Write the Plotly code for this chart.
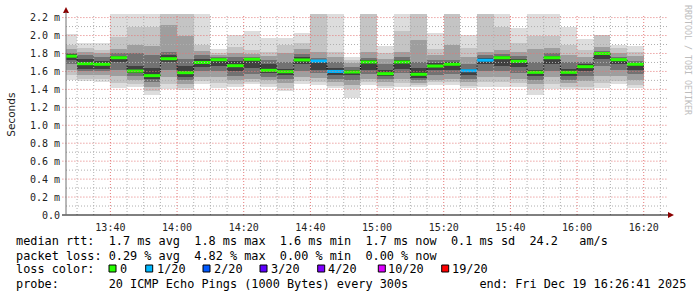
import plotly.graph_objects as go
import pandas as pd

# ---------------- data ----------------
# 5-minute steps, each value belongs to the interval ending at the step time
step_end = pd.date_range("2025-12-19 13:30", "2025-12-19 16:20", freq="5min")

rtt_max = [2.02, 1.92, 1.92, 2.24, 2.24, 2.24, 2.24, 2.24, 2.24, 1.85,
           2.01, 2.05, 1.97, 1.97, 2.03, 2.24, 2.24, 1.76, 2.24, 1.88,
           2.24, 2.24, 2.03, 2.24, 2.01, 2.24, 2.24, 2.085, 2.24, 2.24,
           2.10, 1.96, 2.01, 1.90, 1.88]
rtt_hi2 = [1.90, 1.86, 1.84, 1.98, 2.10, 2.10, 2.24, 2.24, 1.90, 1.80,
           1.87, 1.84, 1.82, 1.90, 1.92, 2.24, 1.82, 1.73, 2.24, 1.80,
           2.05, 2.24, 1.85, 2.24, 1.86, 2.24, 2.10, 1.92, 2.00, 2.00,
           1.90, 1.84, 2.01, 1.86, 1.82]
rtt_hi3 = [1.85, 1.82, 1.80, 1.85, 1.90, 1.88, 2.12, 2.00, 1.83, 1.78,
           1.80, 1.79, 1.77, 1.80, 1.85, 1.82, 1.76, 1.69, 1.82, 1.74,
           1.82, 1.95, 1.78, 1.90, 1.76, 1.82, 1.84, 1.82, 1.85, 1.86,
           1.78, 1.76, 1.87, 1.80, 1.77]
rtt_hi4 = [1.81, 1.78, 1.76, 1.80, 1.80, 1.78, 1.82, 1.74, 1.78, 1.76,
           1.76, 1.76, 1.73, 1.70, 1.79, 1.75, 1.70, 1.65, 1.75, 1.68,
           1.76, 1.70, 1.73, 1.73, 1.68, 1.78, 1.79, 1.77, 1.70, 1.80,
           1.70, 1.71, 1.83, 1.76, 1.72]
rtt_hi5 = [1.79, 1.74, 1.72, 1.77, 1.66, 1.64, 1.78, 1.66, 1.74, 1.75,
           1.72, 1.75, 1.68, 1.63, 1.76, 1.73, 1.64, 1.62, 1.73, 1.62,
           1.73, 1.64, 1.69, 1.70, 1.63, 1.75, 1.77, 1.74, 1.62, 1.77,
           1.63, 1.68, 1.81, 1.74, 1.69]
rtt_median = [1.77, 1.686, 1.68, 1.753, 1.604, 1.553, 1.742, 1.586, 1.70, 1.731,
              1.664, 1.735, 1.612, 1.597, 1.728, 1.716, 1.60, 1.594, 1.705, 1.575,
              1.705, 1.568, 1.66, 1.68, 1.608, 1.725, 1.753, 1.713, 1.59, 1.753,
              1.59, 1.653, 1.80, 1.731, 1.68]
rtt_lo5 = [1.73, 1.63, 1.63, 1.70, 1.58, 1.52, 1.70, 1.54, 1.65, 1.66,
           1.60, 1.64, 1.58, 1.56, 1.68, 1.62, 1.56, 1.56, 1.62, 1.55,
           1.63, 1.53, 1.62, 1.62, 1.56, 1.68, 1.66, 1.65, 1.55, 1.68,
           1.55, 1.60, 1.74, 1.68, 1.62]
rtt_lo4 = [1.68, 1.60, 1.60, 1.62, 1.55, 1.48, 1.62, 1.50, 1.60, 1.60,
           1.55, 1.57, 1.54, 1.52, 1.60, 1.58, 1.52, 1.50, 1.57, 1.52,
           1.58, 1.50, 1.56, 1.57, 1.52, 1.60, 1.60, 1.58, 1.51, 1.61,
           1.51, 1.55, 1.66, 1.62, 1.57]
rtt_lo3 = [1.62, 1.56, 1.56, 1.55, 1.50, 1.43, 1.54, 1.46, 1.54, 1.54,
           1.50, 1.52, 1.50, 1.47, 1.54, 1.53, 1.48, 1.45, 1.52, 1.48,
           1.52, 1.47, 1.51, 1.52, 1.48, 1.54, 1.54, 1.52, 1.46, 1.54,
           1.47, 1.49, 1.55, 1.55, 1.50]
rtt_lo2 = [1.56, 1.52, 1.52, 1.47, 1.46, 1.38, 1.46, 1.42, 1.49, 1.47,
           1.46, 1.48, 1.46, 1.42, 1.49, 1.48, 1.44, 1.40, 1.48, 1.44,
           1.47, 1.45, 1.48, 1.48, 1.44, 1.48, 1.48, 1.47, 1.40, 1.46,
           1.43, 1.43, 1.47, 1.49, 1.45]
rtt_min = [1.51, 1.49, 1.48, 1.42, 1.43, 1.34, 1.40, 1.39, 1.46, 1.42,
           1.43, 1.46, 1.43, 1.38, 1.46, 1.45, 1.41, 1.30, 1.45, 1.41,
           1.43, 1.43, 1.45, 1.45, 1.41, 1.43, 1.43, 1.43, 1.34, 1.40,
           1.40, 1.39, 1.42, 1.46, 1.42]
loss_count = [0, 0, 0, 0, 0, 0, 0, 0, 0, 0,
              0, 0, 0, 0, 0, 1, 1, 0, 0, 0,
              0, 0, 0, 0, 1, 1, 0, 0, 0, 0,
              0, 0, 0, 0, 0]

loss_levels = [0, 1, 2, 3, 4, 10, 19]
loss_labels = ["0", "1/20", "2/20", "3/20", "4/20", "10/20", "19/20"]
loss_colors = ["#26ff00", "#00b8ff", "#0059ff", "#5e00ff", "#7e00ff", "#dd00ff", "#ff0000"]

y_tick_vals = [0.0, 0.2, 0.4, 0.6, 0.8, 1.0, 1.2, 1.4, 1.6, 1.8, 2.0, 2.2]
y_tick_text = ["0.0", "0.2 m", "0.4 m", "0.6 m", "0.8 m", "1.0 m", "1.2 m",
               "1.4 m", "1.6 m", "1.8 m", "2.0 m", "2.2 m"]
y_minor_vals = [0.1, 0.3, 0.5, 0.7, 0.9, 1.1, 1.3, 1.5, 1.7, 1.9, 2.1]
x_tick_vals = pd.date_range("2025-12-19 13:40", "2025-12-19 16:20", freq="20min")
x_tick_text = ["13:40", "14:00", "14:20", "14:40", "15:00", "15:20", "15:40", "16:00", "16:20"]
x_minor_vals = [t for t in pd.date_range("2025-12-19 13:30", "2025-12-19 16:25", freq="5min")
                if t not in set(x_tick_vals)]
x_start = "2025-12-19 13:26:41"
x_end = "2025-12-19 16:26:41"

legend_rtt = "median rtt:  1.7 ms avg  1.8 ms max  1.6 ms min  1.7 ms now  0.1 ms sd  24.2   am/s"
legend_loss = "packet loss: 0.29 % avg  4.82 % max  0.00 % min  0.00 % now"
legend_probe = "probe:       20 ICMP Echo Pings (1000 Bytes) every 300s          end: Fri Dec 19 16:26:41 2025"

# ---------------- figure ----------------
W, H = 697, 297
L, R, T, B = 66, 31, 14, 82
PW, PH = W - L - R, H - T - B


def px(x):
    return (x - L) / PW


def py(y):
    return (T + PH - y) / PH


step = pd.Timedelta("5min")
centers = step_end - step / 2
starts = step_end - step

fig = go.Figure()

layers = [(rtt_min, rtt_max, "#dddddd"),
          (rtt_lo2, rtt_hi2, "#c4c4c4"),
          (rtt_lo3, rtt_hi3, "#9e9e9e"),
          (rtt_lo4, rtt_hi4, "#727272"),
          (rtt_lo5, rtt_hi5, "#404040")]
for lo, hi, col in layers:
    fig.add_trace(go.Bar(
        x=centers, y=[h - l for h, l in zip(hi, lo)], base=lo,
        width=step.total_seconds() * 1000,
        marker=dict(color=col, line=dict(width=0)),
        hoverinfo="skip", showlegend=False))

# black step connector of the median
fig.add_trace(go.Scatter(
    x=list(starts) + [step_end[-1]], y=rtt_median + [rtt_median[-1]],
    mode="lines", line=dict(color="#000000", width=1, shape="hv", dash="1px,1px"),
    hoverinfo="skip", showlegend=False))


def loss_index(n):
    idx = 0
    for i, lv in enumerate(loss_levels):
        if n >= lv:
            idx = i
    return idx


for ci, col in enumerate(loss_colors):
    xs, ys = [], []
    for s, e, m, n in zip(starts, step_end, rtt_median, loss_count):
        if loss_index(n) == ci:
            xs += [s, e, None]
            ys += [m, m, None]
    if xs:
        fig.add_trace(go.Scatter(x=xs, y=ys, mode="lines",
                                 line=dict(color=col, width=3),
                                 hoverinfo="skip", showlegend=False))

shapes = []
grid_minor = "rgb(175,175,175)"
grid_major = "rgb(228,120,120)"
DASH = "1px,2px"
for v in y_minor_vals:
    shapes.append(dict(type="line", xref="paper", yref="y", x0=0, x1=1.004, y0=v, y1=v,
                       line=dict(color=grid_minor, width=1, dash=DASH), layer="above"))
for v in y_tick_vals[1:]:
    shapes.append(dict(type="line", xref="paper", yref="y", x0=-0.006, x1=1.004, y0=v, y1=v,
                       line=dict(color=grid_major, width=1, dash=DASH), layer="above"))
for t in x_minor_vals:
    shapes.append(dict(type="line", xref="x", yref="paper", x0=t, x1=t, y0=0, y1=1,
                       line=dict(color=grid_minor, width=1, dash=DASH), layer="above"))
for t in x_tick_vals:
    shapes.append(dict(type="line", xref="x", yref="paper", x0=t, x1=t, y0=0, y1=1,
                       line=dict(color=grid_major, width=1, dash=DASH), layer="above"))

# axis arrows
shapes.append(dict(type="path", xref="paper", yref="paper",
                   path=f"M {px(63)},{py(13)} L {px(69)},{py(13)} L {px(66)},{py(7)} Z",
                   fillcolor="#8b0000", line=dict(width=0), layer="above"))
shapes.append(dict(type="path", xref="paper", yref="paper",
                   path=f"M {px(668)},{py(212)} L {px(668)},{py(218)} L {px(674)},{py(215)} Z",
                   fillcolor="#8b0000", line=dict(width=0), layer="above"))
shapes.append(dict(type="line", xref="paper", yref="paper", x0=px(62), x1=px(668),
                   y0=0, y1=0, line=dict(color="#000000", width=1), layer="above"))
shapes.append(dict(type="line", xref="paper", yref="paper", x0=0, x1=0,
                   y0=0, y1=py(12), line=dict(color="#707070", width=1), layer="above"))

mono = "DejaVu Sans Mono"
FS = 11.85
annotations = []


def text(x, y, s, size=FS, color="#000000", anchor="left", angle=0, family=mono):
    annotations.append(dict(x=px(x), y=py(y), xref="paper", yref="paper", text=s.replace(" ", "\u00a0"),
                            showarrow=False, xanchor=anchor, yanchor="middle", textangle=angle,
                            borderpad=0, font=dict(family=family, size=size, color=color)))


text(15, 240.7, legend_rtt)
text(15, 255.7, legend_loss)
text(15, 269, "loss color:")
sq_x = [109, 145.7, 203, 260, 317.7, 378.3, 441.7]
lab_x = [120, 156.7, 214, 270.7, 328.3, 388.3, 451.7]
for sx, lx, col, lab in zip(sq_x, lab_x, loss_colors, loss_labels):
    shapes.append(dict(type="rect", xref="paper", yref="paper",
                       x0=px(sx), x1=px(sx + 7), y0=py(272), y1=py(265),
                       fillcolor=col, line=dict(color="#000000", width=1)))
    text(lx - 1, 269, lab)
text(15, 283.5, legend_probe)

text(11, 114.7, "Seconds", size=10.5, anchor="center", angle=-90, family="DejaVu Sans", color="#222222")
text(688, 60, "RRDTOOL / TOBI OETIKER", size=8.3, anchor="center", angle=90, color="#bdbdbd")

fig.update_layout(
    width=W, height=H,
    margin=dict(l=L, r=R, t=T, b=B, pad=0),
    paper_bgcolor="white", plot_bgcolor="white",
    barmode="overlay", bargap=0,
    showlegend=False,
    shapes=shapes, annotations=annotations,
    xaxis=dict(type="date", range=[x_start, x_end], showgrid=False, zeroline=False,
               tickvals=list(x_tick_vals), ticktext=x_tick_text,
               ticks="outside", ticklen=3, tickcolor="rgba(0,0,0,0)",
               tickfont=dict(family=mono, size=10, color="#222222"),
               showline=False, fixedrange=True),
    yaxis=dict(range=[0, 2.24], showgrid=False, zeroline=False,
               tickvals=y_tick_vals, ticktext=y_tick_text,
               ticks="outside", ticklen=3, tickcolor="rgba(0,0,0,0)",
               tickfont=dict(family=mono, size=10, color="#222222"),
               showline=False, fixedrange=True),
)

fig.write_html("out.html", config={"displayModeBar": False})
